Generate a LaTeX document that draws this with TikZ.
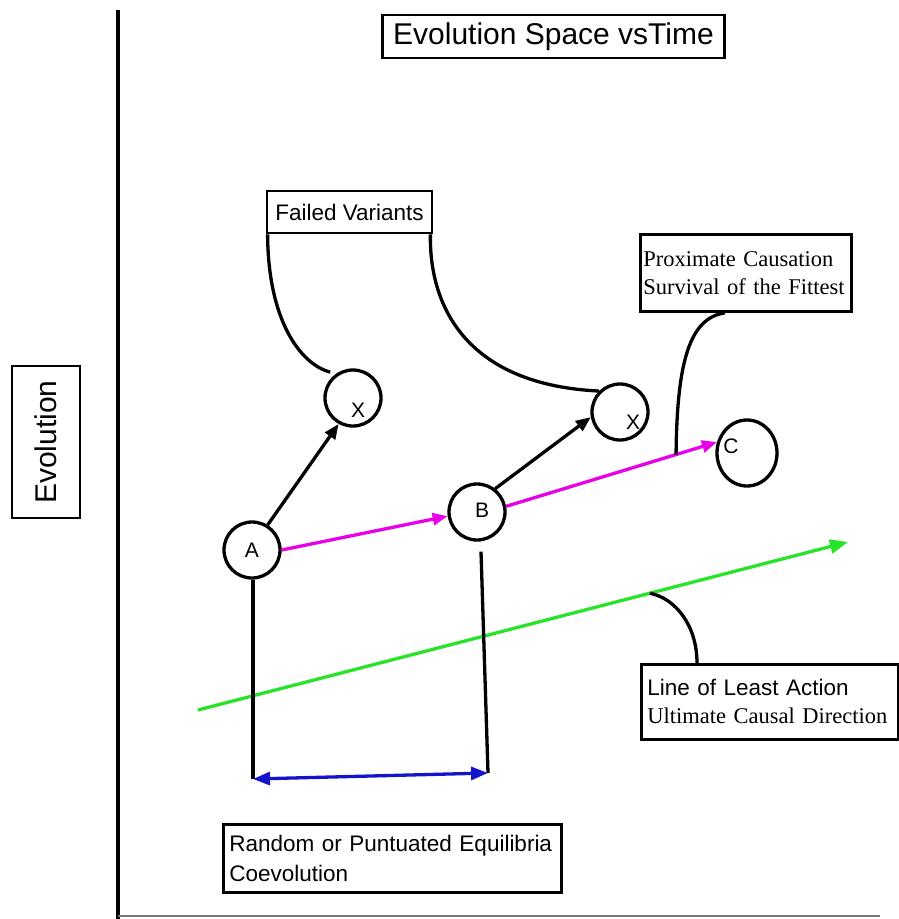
\documentclass[tikz,border=0pt]{standalone}
\usepackage{fontspec}
\setmainfont{Liberation Serif}
\newfontfamily\arialfont{Liberation Sans}
\usetikzlibrary{arrows.meta,shapes.geometric,calc}
\definecolor{pathmag}{RGB}{232,0,232}
\definecolor{leastgreen}{RGB}{40,228,40}
\definecolor{spanblue}{RGB}{20,20,205}
\definecolor{axisgray}{RGB}{120,120,120}

\begin{document}
\begin{tikzpicture}[x=1pt,y=-1pt,
  labelbox/.style={draw, line width=2.8pt, inner xsep=6pt, inner ysep=0pt},
  sanslarge/.style={font=\arialfont\fontsize{30}{30}\selectfont},
  sanstext/.style={font=\arialfont\fontsize{22.5}{30}\selectfont},
  seriftext/.style={font=\fontsize{22.5}{28}\selectfont},
  letterfont/.style={font=\arialfont\fontsize{21}{21}\selectfont, inner sep=0pt},
  stnode/.style={circle, draw, line width=3.3pt, minimum size=56pt, inner sep=0pt},
  conn/.style={line width=3.3pt},
  tipped/.style={-{Triangle[length=15pt,width=12pt]}},
]
\useasboundingbox (0,0) rectangle (898,919);

% axes
\draw[line width=3.3pt] (118,10) -- (118,919);
\draw[axisgray, line width=1.8pt] (118,916) -- (880,916);

% text boxes
\node[labelbox, sanslarge, minimum width=342pt, minimum height=43pt, inner xsep=3pt]
  (title) at (553.5,36.5) {Evolution Space vsTime};
\node[labelbox, sanslarge, rotate=90, minimum width=152pt, minimum height=68pt]
  (yaxis) at (46,442) {Evolution};
\node[labelbox, sanstext, minimum width=165pt, minimum height=42pt, inner xsep=3pt]
  (fv) at (349.5,212) {Failed Variants};
\node[labelbox, seriftext, anchor=north west, inner xsep=3pt, text width=205pt, minimum height=77pt, align=left]
  (prox) at (639,233) {Proximate Causation\\Survival of the Fittest};
\node[labelbox, seriftext, anchor=north west, text width=245pt, minimum height=75pt, align=left]
  (lla) at (640,663) {{\arialfont Line of Least Action}\\Ultimate Causal Direction};
\node[labelbox, sanstext, anchor=north west, text width=326pt, minimum height=68pt, align=left]
  (rnd) at (222,823) {Random or Puntuated Equilibria\\Coevolution};

% states
\node[stnode, label={[letterfont]center:A}] (a) at (252,550) {};
\node[stnode, label={[letterfont, xshift=5pt, yshift=2pt]center:B}] (b) at (477,512) {};
\node[stnode, label={[letterfont, xshift=5pt, yshift=-12pt]center:X}] (x1) at (353,398) {};
\node[stnode, label={[letterfont, xshift=13pt, yshift=-10pt]center:X}] (x2) at (620,412) {};
\node[ellipse, draw, line width=3.3pt, minimum width=60pt, minimum height=66pt, inner sep=0pt,
  label={[letterfont, xshift=-16pt, yshift=7pt]center:C}] (c) at (747,453) {};

% transitions
\draw[conn, tipped] (a.58) -- (x1.241);
\draw[conn, tipped] (b.52) -- (x2.190);
\draw[conn, pathmag, tipped] (a.0) -- (b.188);
\draw[conn, pathmag, tipped] (b.11) -- (c.160);

% line of least action
\coordinate (gs) at (198,710);
\coordinate (ge) at (848,542);
\draw[conn, leastgreen, -{Triangle[length=18pt,width=14pt]}] (gs) -- (ge);

% time span between A and B
\coordinate (aFoot) at (253,779);
\coordinate (bFoot) at (488,773);
\draw[conn] ([xshift=1pt]a.south) -- (aFoot);
\draw[conn] ([xshift=4pt,yshift=-10pt]b.south) -- (bFoot);
\draw[conn, spanblue, {Triangle[length=17pt,width=13pt]}-{Triangle[length=17pt,width=13pt]}]
  (aFoot) -- (bFoot);

% callout leaders
\draw[conn, shorten >=6pt] ([xshift=2pt]fv.south west) .. controls (268,320) and (300,364) .. (x1.125);
\draw[conn] ([xshift=-3pt]fv.south east) .. controls (429,310) and (470,385) .. (x2.135);
\coordinate (pxFoot) at ($(b.11)!0.806!(c.160)$);
\draw[conn] ([xshift=86pt]prox.south west) .. controls (690,318) and (677,360) .. (pxFoot);
\coordinate (lineFoot) at ($(gs)!0.695!(ge)$);
\draw[conn] (lineFoot) .. controls (675,598) and (697,625) .. ([xshift=57pt]lla.north west);
\end{tikzpicture}
\end{document}
